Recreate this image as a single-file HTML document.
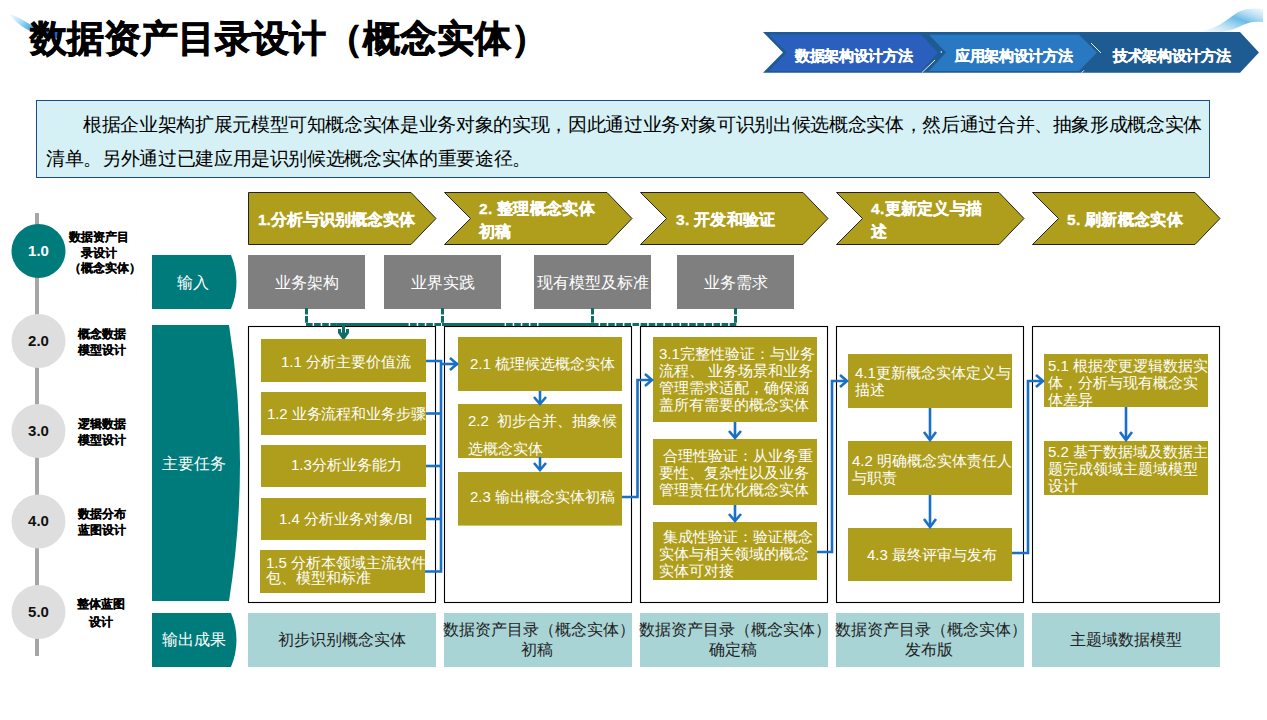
<!DOCTYPE html>
<html><head><meta charset="utf-8">
<style>
*{margin:0;padding:0;box-sizing:border-box}
html,body{width:1267px;height:720px;overflow:hidden;background:#fff}
body{position:relative;font-family:"Liberation Sans",sans-serif;color:#000}
.a{position:absolute;white-space:nowrap}
svg{position:absolute;left:0;top:0}
.title{left:30px;top:14px;font-size:37px;font-weight:bold;line-height:50px;letter-spacing:0;-webkit-text-stroke:0.8px #000}
.tb{left:36px;top:100px;width:1174px;height:78px;background:#d5f1f5;border:1.5px solid #1c4a8a}
.tbt{font-size:18.6px;letter-spacing:-0.35px;line-height:34px;color:#000}
.ch{color:#fff;font-weight:bold;font-size:14.5px;line-height:20px;letter-spacing:-0.35px;-webkit-text-stroke:0.3px #fff}
.st{color:#fff;font-weight:bold;font-size:15.5px;line-height:23px;letter-spacing:0.3px;-webkit-text-stroke:0.3px #fff}
.tl{font-weight:bold;font-size:11.5px;line-height:15.5px;color:#000;-webkit-text-stroke:0.2px #000}
.cn{font-weight:bold;font-size:15px;color:#111;text-align:center;width:40px;line-height:20px}
.lab{color:#fff;font-size:16px;line-height:20px}
.gb{color:#fff;font-size:16px;line-height:20px;text-align:center}
.ob{color:#fff;font-size:15px;line-height:17px}
.out{color:#222;font-size:16px;line-height:20px;text-align:center}
</style></head>
<body>
<svg width="1267" height="720" viewBox="0 0 1267 720">
<defs>
<linearGradient id="sw1" x1="0" y1="0" x2="1" y2="0.4">
<stop offset="0" stop-color="#cfeafa" stop-opacity="0.2"/>
<stop offset="0.45" stop-color="#6cc0ee"/>
<stop offset="0.7" stop-color="#2f86e6"/>
<stop offset="1" stop-color="#1a63dc"/>
</linearGradient>
<linearGradient id="sw2" x1="0" y1="1" x2="1" y2="0">
<stop offset="0" stop-color="#bfe3f6" stop-opacity="0"/>
<stop offset="0.6" stop-color="#69bbe6"/>
<stop offset="1" stop-color="#c6e6f7" stop-opacity="0.3"/>
</linearGradient>
</defs>
<!-- top-left swoosh -->
<path d="M9,13.5 C18,17 26,22 33,26 L45,31 C52,32 58,32 62,33 L60,39 C52,37 44,35 36,33 C25,30 16,23 9,13.5 Z" fill="url(#sw1)"/>
<!-- top-right swoosh -->
<path d="M1196,32 C1214,31 1227,20 1238,12 C1246,8 1254,8 1263,9 L1263,22 C1255,21 1249,22 1243,25 C1235,29 1228,32 1212,33 Z" fill="url(#sw2)"/>
<!-- blue chevrons -->
<path d="M763,32 L1240,32 L1259,52.4 L1240,72.8 L763,72.8 L783,52.4 Z" fill="#1f5b93"/>
<path d="M769,34.8 L921,34.8 L938,52.4 L921,70.9 L769,70.9 L787,52.4 Z" fill="#2a5fbe"/>
<path d="M929,34.8 L1079,34.8 L1097,52.4 L1079,70.9 L929,70.9 L946,52.4 Z" fill="#2979c2"/>
<line x1="922" y1="72.5" x2="935" y2="60" stroke="#e6f0fa" stroke-width="1"/>
<circle cx="941.3" cy="52" r="0.8" fill="#fff"/>
<line x1="1091" y1="43" x2="1101" y2="53" stroke="#e6f0fa" stroke-width="1"/>
<line x1="1081.5" y1="72.8" x2="1084" y2="70.3" stroke="#e6f0fa" stroke-width="1"/>
<!-- timeline -->
<rect x="35" y="213" width="4" height="443" fill="#a6a6a6"/>
<circle cx="38.5" cy="251" r="27" fill="#007b7b"/>
<circle cx="38.5" cy="341" r="27" fill="#dedede"/>
<circle cx="38.5" cy="431" r="27" fill="#dedede"/>
<circle cx="38.5" cy="521.5" r="27" fill="#dedede"/>
<circle cx="38.5" cy="612" r="27" fill="#dedede"/>
<!-- teal labels -->
<path d="M152,255 L231,255 Q242,282 231,309 L152,309 Z" fill="#007b7b"/>
<path d="M152,325 L229,325 Q251,463 229,601 L152,601 Z" fill="#007b7b"/>
<path d="M152,613 L231,613 Q242,640 231,667 L152,667 Z" fill="#007b7b"/>
<!-- step chevrons -->
<path d="M248.5,192.5 L411,192.5 L436,218.5 L411,244.5 L248.5,244.5 Z" fill="#ae9e1b" stroke="#222" stroke-width="1"/>
<path d="M444.5,192.5 L607,192.5 L632,218.5 L607,244.5 L444.5,244.5 L470.5,218.5 Z" fill="#ae9e1b" stroke="#222" stroke-width="1"/>
<path d="M640.5,192.5 L803,192.5 L828,218.5 L803,244.5 L640.5,244.5 L666.5,218.5 Z" fill="#ae9e1b" stroke="#222" stroke-width="1"/>
<path d="M836.5,192.5 L999,192.5 L1024,218.5 L999,244.5 L836.5,244.5 L862.5,218.5 Z" fill="#ae9e1b" stroke="#222" stroke-width="1"/>
<path d="M1032.5,192.5 L1195,192.5 L1220,218.5 L1195,244.5 L1032.5,244.5 L1058.5,218.5 Z" fill="#ae9e1b" stroke="#222" stroke-width="1"/>
<!-- gray input boxes -->
<rect x="248" y="255" width="117" height="54" fill="#7f7f7f"/>
<rect x="384" y="255" width="117" height="54" fill="#7f7f7f"/>
<rect x="534" y="255" width="117" height="54" fill="#7f7f7f"/>
<rect x="677" y="255" width="117" height="54" fill="#7f7f7f"/>
<!-- column boxes -->
<rect x="248.5" y="326.5" width="187" height="276" fill="#fff" stroke="#000" stroke-width="1.1"/>
<rect x="444.5" y="326.5" width="187" height="276" fill="#fff" stroke="#000" stroke-width="1.1"/>
<rect x="640.5" y="326.5" width="187" height="276" fill="#fff" stroke="#000" stroke-width="1.1"/>
<rect x="836.5" y="326.5" width="187" height="276" fill="#fff" stroke="#000" stroke-width="1.1"/>
<rect x="1032.5" y="326.5" width="187" height="276" fill="#fff" stroke="#000" stroke-width="1.1"/>
<!-- dashed teal connectors -->
<g stroke="#0f6d68" stroke-width="3" fill="none">
<g stroke-dasharray="6.6,1.5">
<path d="M306.5,308 L306.5,323"/>
<path d="M442.5,308 L442.5,323"/>
<path d="M592.5,308 L592.5,323"/>
<path d="M735.5,308 L735.5,323"/>
<path d="M306,324.5 L337,324.5"/>
<path d="M402,324.5 L442,324.5"/>
<path d="M498,324.5 L539,324.5"/>
<path d="M592,324.5 L737,324.5"/>
</g>
<path d="M337,324.5 L402,324.5"/>
<path d="M442,324.5 L498,324.5"/>
<path d="M539,324.5 L592,324.5"/>
</g>
<path d="M338,329 L341,329 L341,332 L342,333 L342,325 L345,325 L345,333 L346,332 L346,329 L349,329 L349,333 L344,340 L343,340 L338,333 Z" fill="#0f6d68"/>
<!-- olive boxes col1 -->
<g fill="#ae9e1b">
<rect x="261" y="339" width="165" height="43"/>
<rect x="261" y="392" width="165" height="43"/>
<rect x="261" y="445" width="165" height="42"/>
<rect x="261" y="498" width="165" height="42"/>
<rect x="260" y="550" width="165" height="43"/>
<!-- col2 -->
<rect x="458" y="337" width="164" height="54"/>
<rect x="458" y="404" width="164" height="54"/>
<rect x="458" y="472" width="164" height="53.6"/>
<!-- col3 -->
<rect x="653" y="337" width="164" height="85"/>
<rect x="653" y="439" width="164" height="66"/>
<rect x="653" y="522" width="164" height="58"/>
<!-- col4 -->
<rect x="848" y="354" width="164" height="54"/>
<rect x="848" y="441" width="164" height="54"/>
<rect x="848" y="528" width="164" height="53"/>
<!-- col5 -->
<rect x="1044" y="354" width="164" height="53"/>
<rect x="1044" y="441" width="164" height="54"/>
</g>
<!-- output boxes -->
<g fill="#a8d4d6">
<rect x="248" y="613" width="188" height="54"/>
<rect x="444" y="613" width="188" height="54"/>
<rect x="640" y="613" width="188" height="54"/>
<rect x="836" y="613" width="188" height="54"/>
<rect x="1032" y="613" width="188" height="54"/>
</g>
<!-- blue connectors -->
<g stroke="#1a70c6" stroke-width="2.6" fill="none">
<path d="M426,361 L441,361 L441,571.5 L425,571.5"/>
<path d="M426,413.5 L441,413.5"/>
<path d="M426,466 L441,466"/>
<path d="M426,519 L441,519"/>
<path d="M441,364 L458,364"/>
<path d="M450,358 L457,364 L450,370"/>
<path d="M540,391 L540,403"/>
<path d="M534,397 L540,404 L546,397"/>
<path d="M540,457 L540,470"/>
<path d="M534,463 L540,470 L546,463"/>
<path d="M622,497 L637.5,497 L637.5,380 L652,380"/>
<path d="M645,374 L652,380 L645,386"/>
<path d="M735,422 L735,437"/>
<path d="M729,431 L735,438 L741,431"/>
<path d="M735,505 L735,520"/>
<path d="M729,514 L735,521 L741,514"/>
<path d="M817,552 L832,552 L832,381 L847,381"/>
<path d="M840,375 L847,381 L840,387"/>
<path d="M930,408 L930,439"/>
<path d="M924,432 L930,440 L936,432"/>
<path d="M930,495 L930,526"/>
<path d="M924,519 L930,527 L936,519"/>
<path d="M1012,553 L1028,553 L1028,381 L1043,381"/>
<path d="M1036,375 L1043,381 L1036,387"/>
<path d="M1126,407 L1126,439"/>
<path d="M1120,432 L1126,440 L1132,432"/>
</g>
</svg>

<div class="a title">数据资产目录设计（概念实体）</div>
<div class="a ch" style="left:795px;top:46px">数据架构设计方法</div>
<div class="a ch" style="left:955px;top:46px">应用架构设计方法</div>
<div class="a ch" style="left:1113px;top:46px">技术架构设计方法</div>

<div class="a tb"></div>
<div class="a tbt" style="left:83px;top:107.5px">根据企业架构扩展元模型可知概念实体是业务对象的实现，因此通过业务对象可识别出候选概念实体，然后通过合并、抽象形成概念实体</div>
<div class="a tbt" style="left:46px;top:141.5px">清单。另外通过已建应用是识别候选概念实体的重要途径。</div>


<div class="a cn" style="left:18.5px;top:241px;color:#fff">1.0</div>
<div class="a cn" style="left:18.5px;top:331px">2.0</div>
<div class="a cn" style="left:18.5px;top:421px">3.0</div>
<div class="a cn" style="left:18.5px;top:511px">4.0</div>
<div class="a cn" style="left:18.5px;top:602px">5.0</div>
<div class="a tl" style="left:59px;top:230px;width:80px;text-align:center">数据资产目<br>录设计<br><span style="padding-left:10px">（概念实体）</span></div>
<div class="a tl" style="left:78px;top:327px">概念数据<br>模型设计</div>
<div class="a tl" style="left:78px;top:417px">逻辑数据<br>模型设计</div>
<div class="a tl" style="left:78px;top:507px">数据分布<br>蓝图设计</div>
<div class="a tl" style="left:61px;top:596px;width:80px;text-align:center;line-height:17.5px">整体蓝图<br>设计</div>

<div class="a st" style="left:258px;top:208px;letter-spacing:0">1.分析与识别概念实体</div>
<div class="a st" style="left:479px;top:197px">2. 整理概念实体<br>初稿</div>
<div class="a st" style="left:676px;top:208px">3. 开发和验证</div>
<div class="a st" style="left:871px;top:197px">4.更新定义与描<br>述</div>
<div class="a st" style="left:1067px;top:208px">5. 刷新概念实体</div>

<div class="a lab" style="left:177px;top:273px">输入</div>
<div class="a lab" style="left:162px;top:454px">主要任务</div>
<div class="a lab" style="left:162px;top:630px">输出成果</div>

<div class="a gb" style="left:248px;top:273px;width:117px">业务架构</div>
<div class="a gb" style="left:384px;top:273px;width:117px">业界实践</div>
<div class="a gb" style="left:534px;top:273px;width:117px">现有模型及标准</div>
<div class="a gb" style="left:677px;top:273px;width:117px">业务需求</div>

<div class="a ob" style="left:281px;top:353px">1.1 分析主要价值流</div>
<div class="a ob" style="left:267px;top:405px;letter-spacing:-0.1px">1.2 业务流程和业务步骤</div>
<div class="a ob" style="left:291px;top:456px">1.3分析业务能力</div>
<div class="a ob" style="left:279px;top:510px">1.4 分析业务对象/BI</div>
<div class="a ob" style="left:266px;top:555px;line-height:15px">1.5 分析本领域主流软件<br>包、模型和标准</div>

<div class="a ob" style="left:470px;top:355px">2.1 梳理候选概念实体</div>
<div class="a ob" style="left:468px;top:407px;line-height:27.5px">2.2&nbsp; 初步合并、抽象候<br>选概念实体</div>
<div class="a ob" style="left:470px;top:488px">2.3 输出概念实体初稿</div>

<div class="a ob" style="left:659px;top:345px">3.1完整性验证：与业务<br>流程、 业务场景和业务<br>管理需求适配，确保涵<br>盖所有需要的概念实体</div>
<div class="a ob" style="left:659px;top:447px">&nbsp;合理性验证：从业务重<br>要性、复杂性以及业务<br>管理责任优化概念实体</div>
<div class="a ob" style="left:659px;top:528px">&nbsp;集成性验证：验证概念<br>实体与相关领域的概念<br>实体可对接</div>

<div class="a ob" style="left:855px;top:364px">4.1更新概念实体定义与<br>描述</div>
<div class="a ob" style="left:852px;top:452px">4.2 明确概念实体责任人<br>与职责</div>
<div class="a ob" style="left:867px;top:546px">4.3 最终评审与发布</div>

<div class="a ob" style="left:1048px;top:357px">5.1 根据变更逻辑数据实<br>体，分析与现有概念实<br>体差异</div>
<div class="a ob" style="left:1048px;top:443px">5.2 基于数据域及数据主<br>题完成领域主题域模型<br>设计</div>

<div class="a out" style="left:248px;top:630px;width:188px">初步识别概念实体</div>
<div class="a out" style="left:442.5px;top:620px;width:188px">数据资产目录（概念实体）<br>初稿</div>
<div class="a out" style="left:638.5px;top:620px;width:188px">数据资产目录（概念实体）<br>确定稿</div>
<div class="a out" style="left:834.5px;top:620px;width:188px">数据资产目录（概念实体）<br>发布版</div>
<div class="a out" style="left:1032px;top:630px;width:188px">主题域数据模型</div>
</body></html>
